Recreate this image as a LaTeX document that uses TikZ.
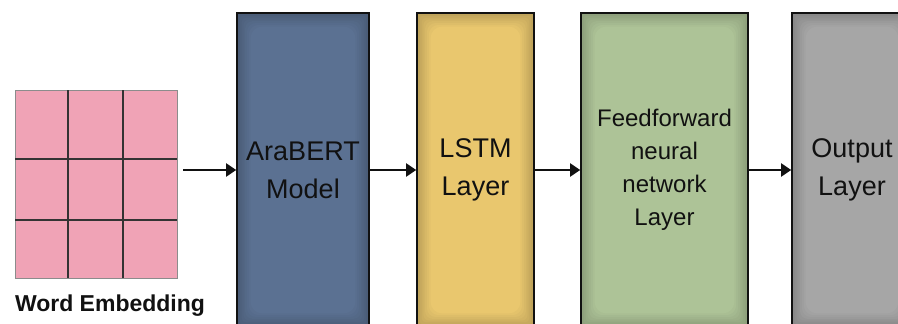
\documentclass[tikz,border=0pt]{standalone}
\usepackage{fontspec}
\setmainfont{Liberation Sans}
\usetikzlibrary{arrows.meta,backgrounds,calc}
\definecolor{araC}{HTML}{5B7192}
\definecolor{lstmC}{HTML}{E9C76E}
\definecolor{ffC}{HTML}{ADC397}
\definecolor{outC}{HTML}{A6A6A6}
\definecolor{pinkC}{HTML}{F0A3B6}
\definecolor{inkC}{HTML}{111111}
\tikzset{
  x=1pt,y=1pt,
  layerbox/.style={draw=inkC,line width=1.6pt,rectangle,inner sep=0pt,
    minimum height=314pt,align=center,text=inkC,font=\fontsize{27}{38}\selectfont},
  arr/.style={draw=inkC,line width=2pt,-{Triangle[length=10pt,width=13pt]}},
  gridline/.style={draw=black!80,line width=1.6pt}
}
\newcommand{\shadebox}[2]{%
  \begin{scope}[on background layer]
  \foreach \i in {0,...,8}{%
    \pgfmathsetmacro{\mixv}{80+\i*20/8}%
    \pgfmathsetmacro{\ins}{\i*1.8}%
    \fill[#2!\mixv!black, rounded corners=\ins*0.8pt]
      ($(#1.south west)+(\ins,\ins)$) rectangle ($(#1.north east)+(-\ins,-\ins)$);
  }
  \end{scope}}
\begin{document}
\begin{tikzpicture}
\useasboundingbox (0,0) rectangle (898,324);
\begin{scope}[on background layer]
\fill[white] (0,0) rectangle (898,324);
\end{scope}
% word embedding grid
\node[draw=black!45,line width=0.8pt,fill=pinkC,minimum width=162pt,minimum height=188pt,inner sep=0pt] (emb) at (96,140) {};
\draw[gridline] (68,46) -- (68,234);
\draw[gridline] (123,46) -- (123,234);
\draw[gridline] (15,165) -- (177,165);
\draw[gridline] (15,104) -- (177,104);
\node[font=\bfseries\fontsize{23}{26}\selectfont,text=inkC,anchor=base] (embl) at (110,12) {Word Embedding};
% layer boxes
\node[layerbox,minimum width=132pt] (arab) at (303,154) {AraBERT\\Model};
\node[layerbox,minimum width=117pt] (lstm) at (475.5,154) {LSTM\\Layer};
\node[layerbox,minimum width=167pt,font=\fontsize{24}{33}\selectfont] (ff) at (664.5,154) {Feedforward\\neural\\network\\Layer};
\node[layerbox,minimum width=120pt] (outl) at (852,154) {Output\\Layer};
\shadebox{arab}{araC}
\shadebox{lstm}{lstmC}
\shadebox{ff}{ffC}
\shadebox{outl}{outC}
% connectors
\coordinate (a0) at (183,154);
\draw[arr] (a0) -- (arab);
\draw[arr] (arab) -- (lstm);
\draw[arr] (lstm) -- (ff);
\draw[arr] (ff) -- (outl);
\end{tikzpicture}
\end{document}
